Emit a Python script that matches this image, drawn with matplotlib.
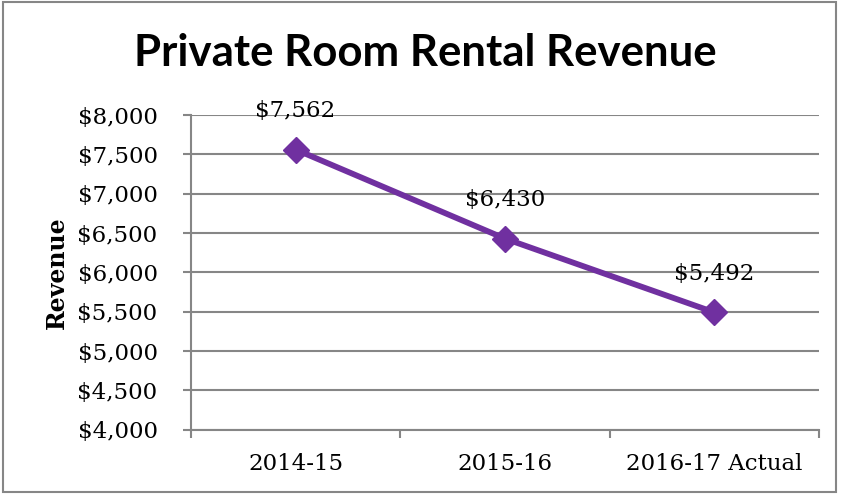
import matplotlib.pyplot as plt
from matplotlib.patches import Rectangle

years = ['2014-15', '2015-16', '2016-17 Actual']
revenue = [7562, 6430, 5492]
y_ticks = [4000, 4500, 5000, 5500, 6000, 6500, 7000, 7500, 8000]

grey = '#868686'
purple = '#7030A0'
fs = 16.5

fig = plt.figure(figsize=(8.41, 4.94), dpi=100)
ax = fig.add_axes([0.227, 0.130, 0.747, 0.637])

x = list(range(len(years)))
ax.plot(x, revenue, color=purple, linewidth=4.2, marker='D', markersize=13.5, zorder=3)
for xi, v in zip(x, revenue):
    ax.annotate('${:,}'.format(v), (xi, v), xytext=(0, 28), textcoords='offset points',
                ha='center', va='center', fontsize=fs, family='DejaVu Serif')

ax.set_xlim(-0.5, len(years) - 0.5)
ax.set_ylim(4000, 8000)
ax.set_yticks(y_ticks)
ax.set_yticklabels(['${:,}'.format(t) for t in y_ticks], family='DejaVu Serif', fontsize=fs)
ax.set_xticks(x)
ax.set_xticklabels(years, family='DejaVu Serif', fontsize=fs)
ax.set_xticks([i - 0.5 for i in range(len(years) + 1)], minor=True)
ax.tick_params(axis='x', which='major', length=0, pad=17)
ax.tick_params(axis='x', which='minor', length=6, width=1.5, color=grey)
ax.tick_params(axis='y', length=6, width=1.5, color=grey, pad=18)

ax.grid(axis='y', color=grey, linewidth=1.5)
ax.set_axisbelow(True)
for s in ['top', 'right']:
    ax.spines[s].set_visible(False)
for s in ['left', 'bottom']:
    ax.spines[s].set_color(grey)
    ax.spines[s].set_linewidth(1.5)

ax.set_ylabel('Revenue', family='DejaVu Serif', fontweight='bold', fontsize=17, labelpad=6)
fig.text(0.506, 0.892, 'Private Room Rental Revenue', ha='center', va='center',
         fontsize=31.5, fontweight='bold', family='Lato')

fig.patches.append(Rectangle((0.004, 0.004), 0.99, 0.992, transform=fig.transFigure,
                             fill=False, edgecolor=grey, linewidth=1.5))

plt.savefig('out.png', dpi=100)
